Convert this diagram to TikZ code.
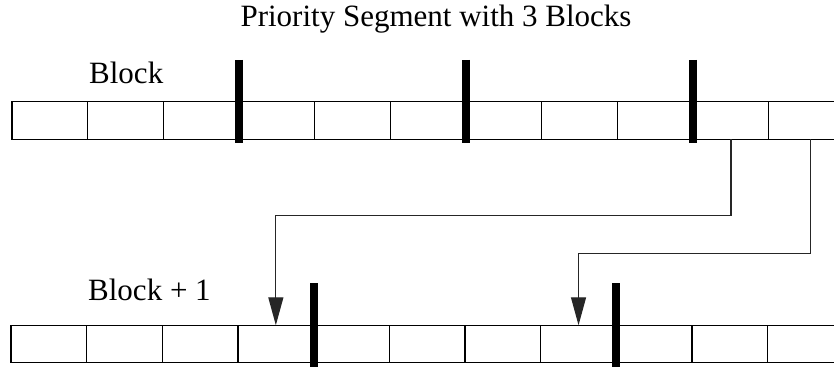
\documentclass[tikz,border=0pt]{standalone}
\usepackage{fontspec}
\setmainfont{Liberation Serif}
\usetikzlibrary{arrows.meta}
\tikzset{
  cell/.style={draw=black, line width=1.2pt, minimum width=75.67pt, minimum height=37.5pt,
               inner sep=0pt, outer sep=0pt, anchor=west},
  bar/.style={line width=8pt},
  link/.style={draw=black!85, line width=1.3pt,
               -{Triangle[length=28pt,width=15pt]}},
  label/.style={font=\fontsize{31}{37}\selectfont, inner sep=0pt, anchor=base west},
}
\begin{document}
\begin{tikzpicture}[x=1pt,y=-1pt]
  \useasboundingbox (0,0) rectangle (834,368);
  \clip (0,0) rectangle (834,368);

  % title and row labels
  \node[label, anchor=base] (title) at (436,26) {Priority Segment with 3 Blocks};
  \node[label] (lblA) at (89,83) {Block};
  \node[label] (lblB) at (88,300) {Block + 1};

  % the two rows of slots
  \foreach \i in {0,...,10} {
    \node[cell] (t\i) at (12+\i*75.67,120.5) {};
    \node[cell] (b\i) at (11+\i*75.67,344) {};
  }

  % block boundaries
  \foreach \i in {3,6,9}
    \draw[bar] ([yshift=42pt]t\i.north west) -- ([yshift=-4pt]t\i.south west);
  \foreach \i in {4,8}
    \draw[bar] ([yshift=42pt]b\i.north west) -- ([yshift=-4pt]b\i.south west);

  % moved entries
  \draw[link] (t9.south) -- ++(0,76) -| (b3.north);
  \draw[link] ([xshift=4pt]t10.south) -- ++(0,114) -| (b7.north);
\end{tikzpicture}
\end{document}
